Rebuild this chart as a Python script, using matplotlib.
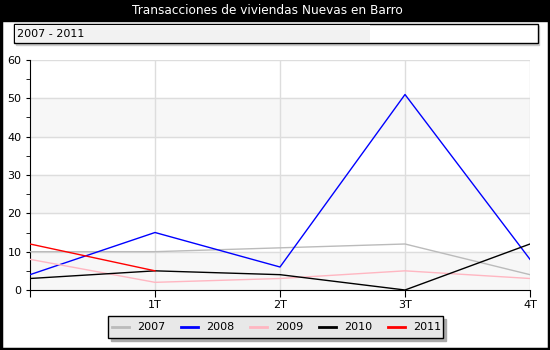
import numpy as np
import matplotlib.pyplot as plt
from matplotlib.patches import Rectangle
from matplotlib.lines import Line2D

TITLE = "Transacciones de viviendas Nuevas en Barro"
PERIOD = "2007 - 2011"
QUARTERS = ["", "1T", "2T", "3T", "4T"]
YEARS = ["2007", "2008", "2009", "2010", "2011"]
COLORS = ["#bbbbbb", "#0000ff", "#ffb6c1", "#000000", "#ff0000"]

v2007 = [10, 10, 11, 12, 4]
v2008 = [4, 15, 6, 51, 8]
v2009 = [8, 2, 3, 5, 3]
v2010 = [3, 5, 4, 0, 12]
v2011 = [12, 5]
SERIES = [v2007, v2008, v2009, v2010, v2011]

W, H = 550, 350
fig = plt.figure(figsize=(W / 100, H / 100), dpi=100)
plt.rcParams["font.family"] = "DejaVu Sans"


def px(x, y, w, h):
    # pixel box (top-left origin) -> figure fraction
    return [x / W, 1 - (y + h) / H, w / W, h / H]


bg = fig.add_axes([0, 0, 1, 1])
bg.set_xlim(0, W); bg.set_ylim(H, 0); bg.axis("off")
# outer border + title bar
bg.add_patch(Rectangle((1, 0), W - 2, H - 1, fill=False, edgecolor="black", lw=2.5))
bg.add_patch(Rectangle((0, 0), W, 21, color="black"))
bg.text(W / 2 - 8, 11, TITLE, color="white", ha="center", va="center", fontsize=8.7)
# period box
bg.add_patch(Rectangle((16, 26), 523, 19, color="#cccccc"))
bg.add_patch(Rectangle((14, 24), 524, 19, facecolor="white", edgecolor="black", lw=1))
bg.add_patch(Rectangle((15, 25), 355, 17, facecolor="#f2f2f2", edgecolor="none"))
bg.text(17, 34, PERIOD, ha="left", va="center", fontsize=8)

ax = fig.add_axes(px(30, 60, 500, 230))
x = np.arange(len(QUARTERS))
for lo in range(0, 60, 20):
    ax.axhspan(lo, lo + 10, color="#f7f7f7", zorder=0)
for yy in range(10, 61, 10):
    ax.axhline(yy, color="#dddddd", lw=1, zorder=1)
for xx in x[1:]:
    ax.axvline(xx, color="#dddddd", lw=1, zorder=1)
for name, vals, c in zip(YEARS, SERIES, COLORS):
    ax.plot(x[:len(vals)], vals, color=c, lw=1, zorder=3, label=name)

ax.set_xlim(0, 4)
ax.set_ylim(0, 60)
ax.set_xticks(x)
ax.set_xticklabels(QUARTERS, fontsize=8)
ax.set_yticks(range(0, 61, 10))
ax.set_yticks(range(5, 60, 10), minor=True)
ax.tick_params(axis="y", which="major", length=3, labelsize=8, pad=3)
ax.tick_params(axis="y", which="minor", length=3)
ax.tick_params(axis="x", length=5, pad=2)
for s in ["top", "right"]:
    ax.spines[s].set_visible(False)
ax.set_facecolor("white")

# legend
bg.add_patch(Rectangle((111, 319), 335, 22, color="#aaaaaa"))
bg.add_patch(Rectangle((108, 316), 335, 22, facecolor="#e8e8e8", edgecolor="black", lw=1))
for i, (name, c) in enumerate(zip(YEARS, COLORS)):
    x0 = 112 + i * 69
    bg.add_line(Line2D([x0, x0 + 17], [327, 327], color=c, lw=2))
    bg.text(x0 + 25, 327, name, ha="left", va="center", fontsize=8)

fig.savefig("out.png", dpi=100)
